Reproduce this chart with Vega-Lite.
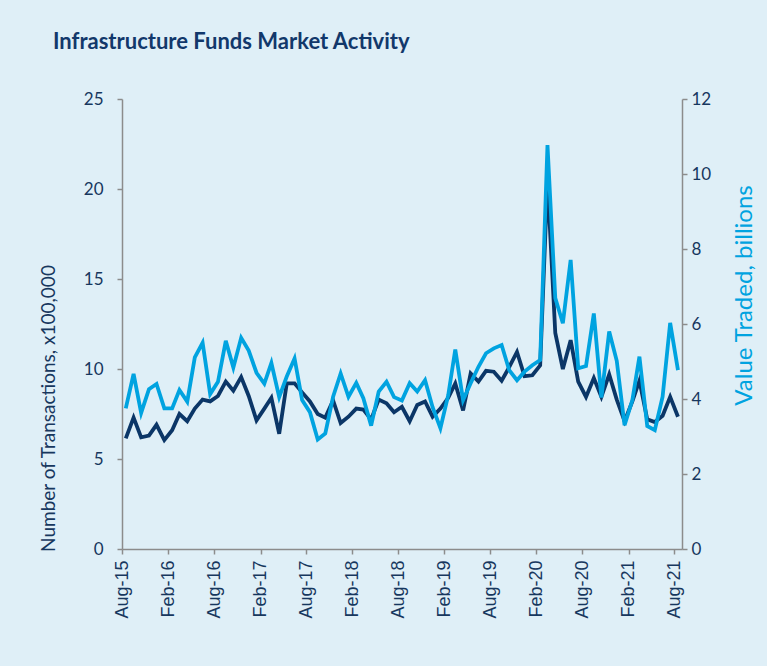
{
  "$schema": "https://vega.github.io/schema/vega-lite/v6.json",
  "width": 560,
  "height": 450,
  "autosize": {"type": "none"},
  "padding": {"left": 122, "top": 99, "right": 85, "bottom": 117},
  "background": "#dfeff7",
  "title": {"text": "Infrastructure Funds Market Activity", "anchor": "start", "frame": "group", "dx": -69, "offset": 36, "font": "Lato", "fontSize": 22, "fontWeight": "bold", "color": "#12386b"},
  "config": {
    "view": {"stroke": null},
    "axis": {"grid": false, "domainColor": "#8c8c8c", "tickColor": "#8c8c8c", "labelColor": "#17375e", "titleColor": "#17375e", "labelFont": "Lato", "titleFont": "Lato", "titleFontWeight": "normal", "domainWidth": 1.5, "tickWidth": 1.5, "tickSize": 5}
  },
  "data": {"values": [
    {"d": "2015-08-16", "t": 6.15, "v": 3.75},
    {"d": "2015-09-16", "t": 7.3, "v": 4.67},
    {"d": "2015-10-16", "t": 6.2, "v": 3.63},
    {"d": "2015-11-16", "t": 6.3, "v": 4.26},
    {"d": "2015-12-16", "t": 6.9, "v": 4.4},
    {"d": "2016-01-16", "t": 6.05, "v": 3.75},
    {"d": "2016-02-16", "t": 6.6, "v": 3.75},
    {"d": "2016-03-16", "t": 7.5, "v": 4.24},
    {"d": "2016-04-16", "t": 7.1, "v": 3.93},
    {"d": "2016-05-16", "t": 7.8, "v": 5.11},
    {"d": "2016-06-16", "t": 8.3, "v": 5.5},
    {"d": "2016-07-16", "t": 8.2, "v": 4.13},
    {"d": "2016-08-16", "t": 8.5, "v": 4.46},
    {"d": "2016-09-16", "t": 9.3, "v": 5.55},
    {"d": "2016-10-16", "t": 8.8, "v": 4.84},
    {"d": "2016-11-16", "t": 9.55, "v": 5.63},
    {"d": "2016-12-16", "t": 8.5, "v": 5.29},
    {"d": "2017-01-16", "t": 7.15, "v": 4.7},
    {"d": "2017-02-16", "t": 7.8, "v": 4.41},
    {"d": "2017-03-16", "t": 8.4, "v": 4.96},
    {"d": "2017-04-16", "t": 6.4, "v": 4.05},
    {"d": "2017-05-16", "t": 9.2, "v": 4.6},
    {"d": "2017-06-16", "t": 9.2, "v": 5.08},
    {"d": "2017-07-16", "t": 8.7, "v": 3.97},
    {"d": "2017-08-16", "t": 8.2, "v": 3.65},
    {"d": "2017-09-16", "t": 7.5, "v": 2.92},
    {"d": "2017-10-16", "t": 7.3, "v": 3.08},
    {"d": "2017-11-16", "t": 8.25, "v": 4.06},
    {"d": "2017-12-16", "t": 7.0, "v": 4.68},
    {"d": "2018-01-16", "t": 7.35, "v": 4.06},
    {"d": "2018-02-16", "t": 7.8, "v": 4.43},
    {"d": "2018-03-16", "t": 7.75, "v": 4.02},
    {"d": "2018-04-16", "t": 7.2, "v": 3.29},
    {"d": "2018-05-16", "t": 8.3, "v": 4.2},
    {"d": "2018-06-16", "t": 8.1, "v": 4.46},
    {"d": "2018-07-16", "t": 7.6, "v": 4.05},
    {"d": "2018-08-16", "t": 7.9, "v": 3.96},
    {"d": "2018-09-16", "t": 7.1, "v": 4.42},
    {"d": "2018-10-16", "t": 8.0, "v": 4.2},
    {"d": "2018-11-16", "t": 8.2, "v": 4.5},
    {"d": "2018-12-16", "t": 7.35, "v": 3.78},
    {"d": "2019-01-16", "t": 7.8, "v": 3.22},
    {"d": "2019-02-16", "t": 8.4, "v": 4.1},
    {"d": "2019-03-16", "t": 9.2, "v": 5.32},
    {"d": "2019-04-16", "t": 7.7, "v": 3.97},
    {"d": "2019-05-16", "t": 9.75, "v": 4.42},
    {"d": "2019-06-16", "t": 9.3, "v": 4.86},
    {"d": "2019-07-16", "t": 9.9, "v": 5.22},
    {"d": "2019-08-16", "t": 9.85, "v": 5.35},
    {"d": "2019-09-16", "t": 9.35, "v": 5.44},
    {"d": "2019-10-16", "t": 10.1, "v": 4.77},
    {"d": "2019-11-16", "t": 10.95, "v": 4.5},
    {"d": "2019-12-16", "t": 9.6, "v": 4.73},
    {"d": "2020-01-16", "t": 9.65, "v": 4.9},
    {"d": "2020-02-16", "t": 10.2, "v": 5.04},
    {"d": "2020-03-16", "t": 20.5, "v": 10.77},
    {"d": "2020-04-16", "t": 12.0, "v": 6.69},
    {"d": "2020-05-16", "t": 10.0, "v": 6.02},
    {"d": "2020-06-16", "t": 11.6, "v": 7.71},
    {"d": "2020-07-16", "t": 9.3, "v": 4.82},
    {"d": "2020-08-16", "t": 8.45, "v": 4.88},
    {"d": "2020-09-16", "t": 9.5, "v": 6.28},
    {"d": "2020-10-16", "t": 8.45, "v": 4.04},
    {"d": "2020-11-16", "t": 9.7, "v": 5.8},
    {"d": "2020-12-16", "t": 8.3, "v": 5.02},
    {"d": "2021-01-16", "t": 7.1, "v": 3.3},
    {"d": "2021-02-16", "t": 8.2, "v": 3.97},
    {"d": "2021-03-16", "t": 9.35, "v": 5.13},
    {"d": "2021-04-16", "t": 7.2, "v": 3.28},
    {"d": "2021-05-16", "t": 7.05, "v": 3.17},
    {"d": "2021-06-16", "t": 7.4, "v": 4.06},
    {"d": "2021-07-16", "t": 8.45, "v": 6.03},
    {"d": "2021-08-16", "t": 7.35, "v": 4.77}
  ]},
  "encoding": {
    "x": {
      "field": "d", "type": "temporal",
      "scale": {"type": "utc", "domain": [{"utc": true, "year": 2015, "month": 8, "date": 1}, {"utc": true, "year": 2021, "month": 9, "date": 1}]},
      "axis": {
        "title": null, "format": "%b-%y", "labelAngle": -90, "labelPadding": 6, "labelFont": "Liberation Sans", "labelFontSize": 18,
        "values": [
          {"utc": true, "year": 2015, "month": 8, "date": 1},
          {"utc": true, "year": 2016, "month": 2, "date": 1},
          {"utc": true, "year": 2016, "month": 8, "date": 1},
          {"utc": true, "year": 2017, "month": 2, "date": 1},
          {"utc": true, "year": 2017, "month": 8, "date": 1},
          {"utc": true, "year": 2018, "month": 2, "date": 1},
          {"utc": true, "year": 2018, "month": 8, "date": 1},
          {"utc": true, "year": 2019, "month": 2, "date": 1},
          {"utc": true, "year": 2019, "month": 8, "date": 1},
          {"utc": true, "year": 2020, "month": 2, "date": 1},
          {"utc": true, "year": 2020, "month": 8, "date": 1},
          {"utc": true, "year": 2021, "month": 2, "date": 1},
          {"utc": true, "year": 2021, "month": 8, "date": 1}
        ]
      }
    }
  },
  "layer": [
    {
      "mark": {"type": "line", "color": "#0b3667", "strokeWidth": 3.8},
      "encoding": {
        "y": {"field": "t", "type": "quantitative", "scale": {"domain": [0, 25]},
          "axis": {"orient": "left", "values": [0, 5, 10, 15, 20, 25], "labelFontSize": 17, "labelPadding": 14, "title": "Number of Transactions, x100,000", "titleFontSize": 19, "titleAngle": -90, "titleBaseline": "middle", "titleX": -74, "titleY": 309}}
      }
    },
    {
      "mark": {"type": "line", "color": "#00a3e0", "strokeWidth": 3.8},
      "encoding": {
        "y": {"field": "v", "type": "quantitative", "scale": {"domain": [0, 12]},
          "axis": {"orient": "right", "values": [0, 2, 4, 6, 8, 10, 12], "labelFontSize": 17, "labelPadding": 4, "title": "Value Traded, billions", "titleColor": "#00a3e0", "titleFontSize": 24, "titleAngle": -90, "titleBaseline": "middle", "titleX": 62, "titleY": 196}}
      }
    }
  ],
  "resolve": {"scale": {"y": "independent"}}
}
